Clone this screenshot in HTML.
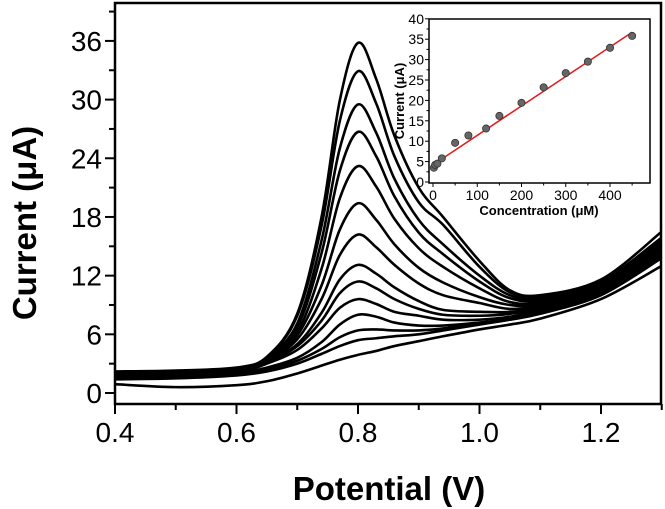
<!DOCTYPE html>
<html><head><meta charset="utf-8"><style>
html,body{margin:0;padding:0;background:#fff;}
svg{display:block;font-family:"Liberation Sans",Arial,sans-serif;}
</style></head><body>
<svg id="chart" width="665" height="509" viewBox="0 0 665 509"></svg>
<script>
const potentials=[0.40,0.50,0.60,0.65,0.70,0.74,0.77,0.80,0.83,0.86,0.90,0.94,1.00,1.05,1.10,1.20,1.30];
const curve1=[2.2,2.3,2.6,3.7,8.1,18.0,29.9,35.8,32.1,26.3,21.0,18.0,13.5,10.5,10.0,11.6,16.5];
const curve2=[2.1,2.2,2.5,3.6,7.9,17.1,27.8,32.9,29.6,24.2,19.5,17.2,12.9,10.3,9.8,11.4,15.9];
const curve3=[2.1,2.2,2.5,3.6,7.1,15.6,25.0,29.5,26.6,21.9,17.7,15.2,12.0,10.0,9.6,11.3,15.7];
const curve4=[2.0,2.1,2.4,3.5,6.7,14.3,22.7,26.7,24.2,20.1,16.4,14.2,11.4,9.7,9.5,11.2,15.5];
const curve5=[2.0,2.1,2.4,3.4,6.2,12.7,19.9,23.2,21.1,17.8,14.8,12.9,10.7,9.3,9.3,11.1,15.3];
const curve6=[1.9,2.0,2.3,3.3,5.9,11.0,16.7,19.4,17.7,15.2,12.8,11.3,9.8,9.0,9.1,11.0,15.1];
const curve7=[1.9,2.0,2.3,3.2,5.5,9.6,14.1,16.2,14.9,13.1,11.2,10.0,9.2,8.6,9.0,10.9,15.0];
const curve8=[1.8,1.9,2.2,3.1,5.0,8.2,11.6,13.1,12.2,10.8,9.4,8.5,8.3,8.3,8.8,10.8,14.8];
const curve9=[1.8,1.9,2.2,3.1,4.8,7.4,10.2,11.4,10.7,9.6,8.6,8.0,7.9,8.1,8.7,10.7,14.7];
const curve10=[1.7,1.8,2.1,3.0,4.4,6.6,8.7,9.6,9.1,8.3,7.9,7.5,7.5,7.8,8.5,10.6,14.5];
const curve11=[1.6,1.7,2.0,2.6,3.6,5.2,7.0,8.0,7.8,7.2,6.9,6.9,7.2,7.6,8.3,10.4,14.2];
const curve12=[1.5,1.6,1.9,2.4,3.3,4.5,5.7,6.4,6.5,6.4,6.4,6.6,7.1,7.5,8.2,10.2,14.0];
const curve13=[1.4,1.5,1.8,2.2,3.0,4.0,4.8,5.4,5.6,5.8,6.0,6.4,7.0,7.5,8.1,10.0,13.8];
const curve14=[0.9,0.6,0.8,1.2,2.0,2.8,3.4,3.9,4.3,4.8,5.3,5.8,6.5,7.0,7.6,9.6,13.0];
const curves=[curve1,curve2,curve3,curve4,curve5,curve6,curve7,curve8,curve9,curve10,curve11,curve12,curve13,curve14];
const xTicks=[0.4,0.6,0.8,1.0,1.2];
const xTickLabels=["0.4","0.6","0.8","1.0","1.2"];
const yTicks=[0,6,12,18,24,30,36];
const yTickLabels=["0","6","12","18","24","30","36"];
const concentrations=[2,5,10,20,50,80,120,150,200,250,300,350,400,450];
const insetCurrents=[3.5,4.2,4.5,5.8,9.6,11.4,13.1,16.2,19.4,23.2,26.7,29.5,32.9,35.8];
const fitLine=[[0,4.2],[450,36.7]];
const insetXTicks=[0,100,200,300,400];
const insetYTicks=[0,5,10,15,20,25,30,35,40];

const NS="http://www.w3.org/2000/svg";
const svg=document.getElementById('chart');
function mk(tag,attrs,parent){const e=document.createElementNS(NS,tag);for(const k in attrs)e.setAttribute(k,attrs[k]);(parent||svg).appendChild(e);return e;}
const L=115,R=661,T=3,B=404;
const xs=v=>L+(v-0.4)*607.5;
const ys=v=>393-v*9.78;
const clip=mk('clipPath',{id:'pc'});mk('rect',{x:L,y:T,width:R-L,height:B-T},clip);
const g=mk('g',{'clip-path':'url(#pc)'});
function smooth(pts){let d=`M${pts[0][0]},${pts[0][1]}`;for(let i=0;i<pts.length-1;i++){const p0=pts[Math.max(0,i-1)],p1=pts[i],p2=pts[i+1],p3=pts[Math.min(pts.length-1,i+2)];const c1=[p1[0]+(p2[0]-p0[0])/6,p1[1]+(p2[1]-p0[1])/6],c2=[p2[0]-(p3[0]-p1[0])/6,p2[1]-(p3[1]-p1[1])/6];d+=` C${c1[0]},${c1[1]} ${c2[0]},${c2[1]} ${p2[0]},${p2[1]}`;}return d;}
curves.forEach((c,i)=>{
 const p=mk('path',{d:smooth(c.map((v,j)=>[xs(potentials[j]),ys(v)])),fill:'none',stroke:'#000','stroke-width':2.6},g);
 
 
});
const frame=mk('rect',{x:L,y:T,width:R-L,height:B-T,fill:'none',stroke:'#000','stroke-width':2.5});


for(let k=0;k<=9;k++){const v=0.4+k*0.1;const x=xs(v);const major=k%2===0;mk('line',{x1:x,x2:x,y1:B,y2:B+(major?10:6),stroke:'#000','stroke-width':2});}
xTicks.forEach((v,i)=>{const t=mk('text',{x:xs(v),y:B+38,'text-anchor':'middle','font-size':28});t.textContent=xTickLabels[i];
 });
for(let v=0;v<=39;v+=3){const y=ys(v);const major=v%6===0;mk('line',{x1:L,x2:L-(major?10:6),y1:y,y2:y,stroke:'#000','stroke-width':2});}
yTicks.forEach((v,i)=>{const t=mk('text',{x:L-13,y:ys(v)+10,'text-anchor':'end','font-size':28});t.textContent=yTickLabels[i];
 });
const xt=mk('text',{x:389,y:500,'text-anchor':'middle','font-size':33,'font-weight':'bold'});xt.textContent='Potential (V)';

const yt=mk('text',{x:0,y:0,'text-anchor':'middle','font-size':33,'font-weight':'bold',transform:'translate(36,223) rotate(-90)'});yt.textContent='Current (μA)';


const IL=429,IR=650,IT=19,IB=183;
const ix=v=>433+v*0.4425;
const iy=v=>182-v*4.08;
const ig=mk('g',{});


mk('rect',{x:IL,y:IT,width:IR-IL,height:IB-IT,fill:'#fff',stroke:'#000','stroke-width':1.5},ig);
for(let v=0;v<=450;v+=50){mk('line',{x1:ix(v),x2:ix(v),y1:IB,y2:IB+(v%100===0?4:2.5),stroke:'#000','stroke-width':1},ig);}
insetXTicks.forEach(v=>{const t=mk('text',{x:ix(v),y:IB+17,'text-anchor':'middle','font-size':14},ig);t.textContent=v;
 });
for(let v=0;v<=40;v+=2.5){mk('line',{x1:IL,x2:IL-(v%5===0?4:2.5),y1:iy(v),y2:iy(v),stroke:'#000','stroke-width':1},ig);}
insetYTicks.forEach(v=>{const t=mk('text',{x:IL-5,y:iy(v)+5,'text-anchor':'end','font-size':14},ig);t.textContent=v;
 });
const fl=mk('line',{x1:ix(fitLine[0][0]),y1:iy(fitLine[0][1]),x2:ix(fitLine[1][0]),y2:iy(fitLine[1][1]),stroke:'#e02020','stroke-width':1.6},ig);

concentrations.forEach((c,i)=>{const p=mk('circle',{cx:ix(c),cy:iy(insetCurrents[i]),r:3.6,fill:'#666',stroke:'#333','stroke-width':0.8},ig);
 });
const ixt=mk('text',{x:539,y:215,'text-anchor':'middle','font-size':13,'font-weight':'bold'},ig);ixt.textContent='Concentration (μM)';

const iyt=mk('text',{x:0,y:0,'text-anchor':'middle','font-size':13,'font-weight':'bold',transform:'translate(404,101) rotate(-90)'},ig);iyt.textContent='Current (μA)';

</script>
</body></html>
